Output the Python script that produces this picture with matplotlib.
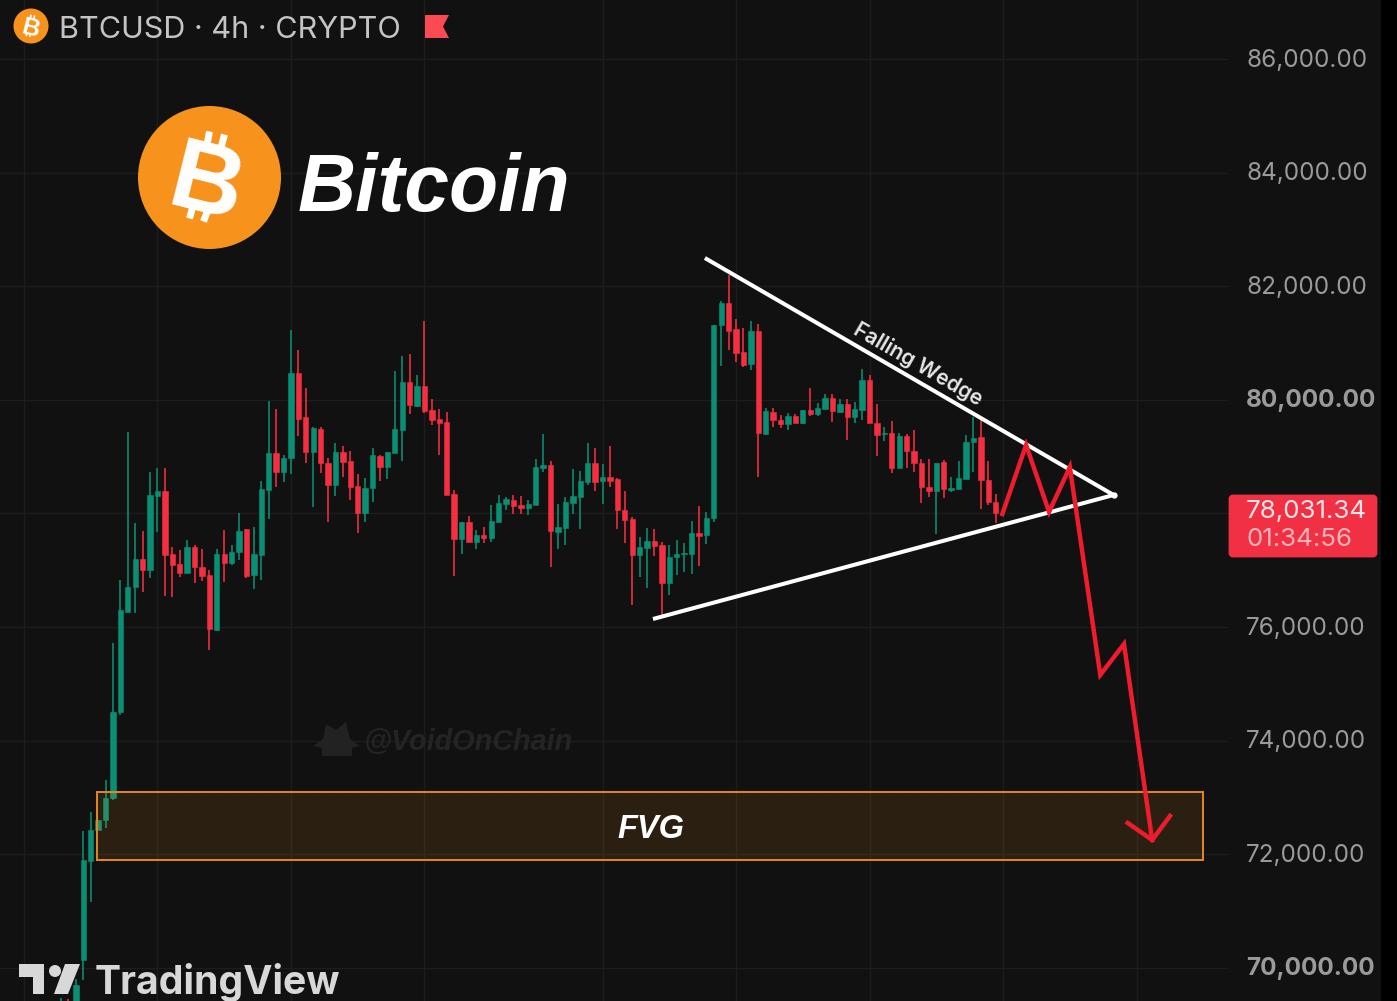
"""BTCUSD 4h candlestick chart with falling wedge annotation."""

import matplotlib

matplotlib.use("Agg")
import matplotlib.pyplot as plt
import numpy as np
from matplotlib.patches import Circle, FancyBboxPatch, Polygon, Rectangle
from matplotlib.transforms import Affine2D

opens = [
    68900, 69300, 68800, 70133, 71883, 72423, 72599, 72987, 74503, 76271,
    76700, 77193, 77005, 78315, 78397, 77281, 77111, 76958, 77416, 77064,
    76911, 75948, 77281, 77122, 77322, 77722, 76911, 77269, 78415, 79061,
    78726, 78973, 80470, 79695, 79084, 79483, 78896, 78503, 79078, 78926,
    78485, 78003, 78444, 79014, 78814, 79061, 79472, 80312, 79900, 80253,
    79824, 79666, 79613, 78344, 77551, 77851, 77504, 77622, 77569, 77857,
    78168, 78238, 78144, 78092, 78156, 78808, 78849, 77680, 77739, 78191,
    78297, 78561, 78884, 78567, 78650, 78603, 78062, 77898, 77269, 77399,
    77522, 77440, 76770, 77234, 77287, 77287, 77663, 77622,
    77915, 81322, 81715, 81245, 80852, 80635, 81222, 79401, 79795, 79648,
    79578, 79724, 79601, 79824, 79754, 79842, 80041, 79795, 79930, 79707,
    79824, 80353, 79601, 79395, 79413, 78796, 79372, 79102, 78896, 78462,
    78403, 78902, 78415, 78427, 78614, 79255, 79343, 78591, 78209,
]
highs = [
    69457, 69450, 69800, 72411, 72746, 72599, 73304, 75713, 76829, 79442,
    77839, 77698, 78738, 78796, 78796, 77416, 77357, 77534, 77446, 77381,
    77005, 77369, 77710, 77440, 78004, 77733, 77769, 78579, 79983, 79836,
    79031, 81234, 80881, 80206, 79519, 79530, 78973, 79237, 79196, 79108,
    78696, 78632, 79149, 79025, 79090, 80511, 80776, 80811, 80435, 81398,
    80012, 79848, 79795, 78409, 77851, 77957, 77710, 77757, 78144, 78327,
    78297, 78321, 78309, 78238, 78967, 79395, 78926, 78168, 78297, 78785,
    78749, 79237, 79155, 78867, 79196, 78620, 78397, 77933, 77581, 77739,
    77722, 77504, 77440, 77534, 77475, 77868, 78138, 78027,
    81322, 81750, 82203, 81422, 81263, 81392, 81339, 79854, 79865, 79736,
    79777, 79754, 79824, 80206, 79953, 80106, 80100, 80018, 80012, 79971,
    80541, 80435, 79930, 79530, 79636, 79413, 79401, 79472, 78955, 78961,
    78896, 78943, 78638, 78920, 79384, 79707, 79648, 78926, 78338,
]
lows = [
    68700, 68800, 68500, 69780, 71160, 72423, 72464, 72950, 74450, 76271,
    76242, 76623, 76858, 77680, 76547, 76535, 76888, 76958, 76770, 76817,
    75595, 75930, 76800, 77099, 77181, 76864, 76664, 76829, 77898, 78473,
    78556, 78696, 79366, 78884, 78121, 78708, 77857, 78309, 78650, 78238,
    77651, 77857, 78197, 78579, 78603, 79061, 78931, 79754, 79883, 79765,
    79566, 79025, 78327, 76905, 77281, 77504, 77381, 77487, 77504, 77857,
    78062, 77992, 77992, 77968, 78156, 78726, 77064, 77381, 77451, 77992,
    77733, 78497, 78397, 78168, 78473, 77733, 77475, 76394, 76888, 76682,
    77252, 76212, 76570, 76911, 76970, 76935, 77081, 77457,
    77857, 80599, 80881, 80676, 80588, 80529, 78650, 79390, 79530, 79501,
    79472, 79589, 79572, 79718, 79718, 79842, 79619, 79777, 79296, 79601,
    79648, 79589, 79014, 79284, 78708, 78796, 78796, 78738, 78180, 78285,
    77640, 78268, 78385, 78427, 78614, 78738, 78074, 78150, 77827,
]
closes = [
    69300, 69000, 69700, 71894, 72423, 72599, 72981, 74503, 76300, 76712,
    77193, 77005, 78326, 78397, 77269, 77093, 76958, 77404, 77064, 76899,
    75960, 77281, 77134, 77322, 77692, 76899, 77281, 78426, 79061, 78726,
    78984, 80470, 79671, 79084, 79501, 78884, 78503, 79078, 78914, 78473,
    78003, 78456, 79025, 78814, 79078, 79483, 80312, 79912, 80253, 79812,
    79648, 79595, 78327, 77551, 77851, 77504, 77622, 77569, 77874, 78180,
    78250, 78133, 78092, 78168, 78826, 78855, 77686, 77757, 78203, 78309,
    78579, 78884, 78561, 78650, 78579, 78056, 77886, 77269, 77404, 77522,
    77428, 76770, 77234, 77293, 77311, 77663, 77610, 77921,
    81322, 81715, 81222, 80834, 80617, 81222, 79413, 79812, 79648, 79578,
    79718, 79601, 79824, 79748, 79854, 80041, 79812, 79930, 79707, 79842,
    80353, 79589, 79384, 79419, 78796, 79372, 79102, 78885, 78462, 78397,
    78896, 78427, 78450, 78620, 79266, 79337, 78591, 78209, 78003,
]

price_ticks = [70000, 72000, 74000, 76000, 78000, 80000, 82000, 84000, 86000]
bold_ticks = [70000, 80000]
hidden_ticks = [78000]  # covered by the last price label
time_grid = [-5, 13, 31, 49, 73, 91, 109, 127, 145]

# drawings, in bar index / price
wedge_top_x = [86.8, 141.9]
wedge_top_y = [82502, 78326]
wedge_bottom_x = [79.8, 141.9]
wedge_bottom_y = [76141, 78326]
forecast_x = [126.9, 130.1, 133.2, 136.0, 140.1, 143.3, 147.1]
forecast_y = [77991, 79207, 78027, 78819, 75155, 75701, 72247]
arrow_x = [143.8, 147.1, 149.5]
arrow_y = [72547, 72247, 72670]
fvg_left, fvg_right = 4.85, 153.95
fvg_low, fvg_high = 71895, 73093

BG = "#111111"
GRID = "#1d1d1d"
GREEN = "#0b8f74"
RED = "#f42f42"
ORANGE = "#f7931a"
W, H = 1397, 1001
BAR_PX = 7.418
FIRST_BAR_PX = 61

fig = plt.figure(figsize=(W / 100, H / 100), dpi=100, facecolor=BG)
ax = fig.add_axes([0, 0, 1228 / W, 1])
ax.set_facecolor(BG)
ax.set_xlim(-FIRST_BAR_PX / BAR_PX, (1228 - FIRST_BAR_PX) / BAR_PX)
ax.set_ylim(69410, 87048)

for side in ax.spines.values():
    side.set_visible(False)
ax.set_xticks(time_grid)
ax.tick_params(axis="x", length=0, labelbottom=False)
ax.yaxis.tick_right()
ax.set_yticks(price_ticks)
ax.set_yticklabels(["" if p in hidden_ticks else f"{p:,.2f}" for p in price_ticks])
ax.tick_params(axis="y", length=0, pad=13, labelcolor="#9a9a9a")
ax.grid(True, color=GRID, lw=1.0)
ax.set_axisbelow(True)
for label, p in zip(ax.get_yticklabels(), price_ticks):
    label.set_family("Inter")
    label.set_fontsize(17.5)
    if p in bold_ticks:
        label.set_fontweight("bold")
    label.set_transform(label.get_transform() + Affine2D().translate(0, 1.5))

x = np.arange(len(closes))
o = np.array(opens)
c = np.array(closes)
colors = [GREEN if up else RED for up in c >= o]
ax.vlines(x, lows, highs, colors=colors, lw=1.15, zorder=2)
ax.bar(x, np.abs(c - o), bottom=np.minimum(o, c), width=0.72, color=colors,
       edgecolor=colors, lw=0.4, zorder=3)

ax.add_patch(Rectangle((fvg_left, fvg_low), fvg_right - fvg_left, fvg_high - fvg_low,
                       facecolor=ORANGE, alpha=0.115, lw=0, zorder=4))
ax.add_patch(Rectangle((fvg_left, fvg_low), fvg_right - fvg_left, fvg_high - fvg_low,
                       fill=False, edgecolor="#e8871e", lw=1.4, zorder=4))
ax.text((fvg_left + fvg_right) / 2 + 0.1, (fvg_low + fvg_high) / 2 - 70, "FVG", color="white",
        family="Liberation Sans", weight="bold", style="italic", fontsize=23.5,
        ha="center", va="center", zorder=6)

ax.plot(wedge_top_x, wedge_top_y, color="white", lw=2.9, solid_capstyle="butt", zorder=5)
ax.plot(wedge_bottom_x, wedge_bottom_y, color="white", lw=2.9, solid_capstyle="butt", zorder=5)
ax.plot(wedge_top_x[-1], wedge_top_y[-1], "o", color="white", ms=3.5, zorder=5)
ax.text(115.5, 80630, "Falling Wedge", color="#e8e8e8", family="Inter", weight="semibold",
        fontsize=15.2, rotation=-30, rotation_mode="anchor", ha="center", va="center", zorder=6)
ax.plot(forecast_x, forecast_y, color="#ee1c2c", lw=3.2, solid_joinstyle="miter", zorder=5)
ax.plot(arrow_x, arrow_y, color="#ee1c2c", lw=3.2, solid_joinstyle="miter", zorder=5)

# overlay in pixel coordinates for logos and labels
ov = fig.add_axes([0, 0, 1, 1], facecolor="none")
ov.set_xlim(0, W)
ov.set_ylim(H, 0)
ov.axis("off")


def draw_btc(cx, cy, r):
    s = r / 71.5
    ov.add_patch(Circle((cx, cy), r, color="#f7931c", lw=0, zorder=7))
    ov.text(cx - 1 * s, cy, "B", color="white", family="Liberation Sans", weight="bold",
            fontsize=72 * s, rotation=-14, rotation_mode="anchor", ha="center",
            va="center_baseline", zorder=8)
    for (x0, y0, x1, y1) in [(0, -46, -3, -30), (15, -43, 11, -28), (-17, 30, -20, 41), (-1, 31, -6, 44)]:
        ov.plot([cx + x0 * s, cx + x1 * s], [cy + y0 * s, cy + y1 * s], color="white",
                lw=5 * s, solid_capstyle="butt", zorder=8)


draw_btc(209.5, 177.5, 71.5)
ov.text(298, 211, "Bitcoin", color="white", family="Liberation Sans", weight="bold",
        style="italic", fontsize=58, ha="left", va="baseline", zorder=8)

draw_btc(31, 26, 17.5)
ov.text(59, 30, "BTCUSD · 4h · CRYPTO", color="#c4c4c4", family="Inter", fontsize=22,
        ha="left", va="center", zorder=8)
ov.add_patch(Polygon([(425, 15), (449, 15), (443, 26.5), (449, 38), (425, 38)], color="#fb4a52", lw=0))

# price label
ov.add_patch(FancyBboxPatch((1230, 496), 146, 60, boxstyle="round,pad=0,rounding_size=3",
                            facecolor="#f23043", edgecolor="#f23043", lw=2, zorder=7))
ov.text(1246, 512, "78,031.34", color="#fbe6e8", family="Inter", fontsize=18.7,
        ha="left", va="center", zorder=8)
ov.text(1246, 540, "01:34:56", color="#f8b4bb", family="Inter", fontsize=18.7,
        ha="left", va="center", zorder=8)
ov.add_patch(Rectangle((1381, 0), 16, H, color="black", lw=0, zorder=9))

# TradingView watermark
wm = "#d8d8d8"
ov.add_patch(Polygon([(19, 964), (44, 964), (44, 994), (33, 994), (33, 977), (19, 977)], color=wm, lw=0, zorder=8))
ov.add_patch(Circle((55, 971), 6, color=wm, lw=0, zorder=8))
ov.add_patch(Polygon([(65, 964), (80, 964), (68, 994), (54, 994)], color=wm, lw=0, zorder=8))
ov.text(95, 982, "TradingView", color=wm, family="Inter", weight="bold", fontsize=28.2,
        ha="left", va="center", zorder=8)

# author watermark
ov.add_patch(Polygon([(313, 746), (323, 739), (326, 724), (336, 730), (346, 722), (350, 739),
                      (360, 746), (352, 748), (352, 756), (322, 756), (322, 748)],
                     color="#222222", lw=0, zorder=1))
ov.text(364, 742, "@VoidOnChain", color="#242424", family="Liberation Sans", weight="bold",
        style="italic", fontsize=20.7, ha="left", va="center", zorder=1)

fig.savefig("out.png", dpi=100, facecolor=BG)
